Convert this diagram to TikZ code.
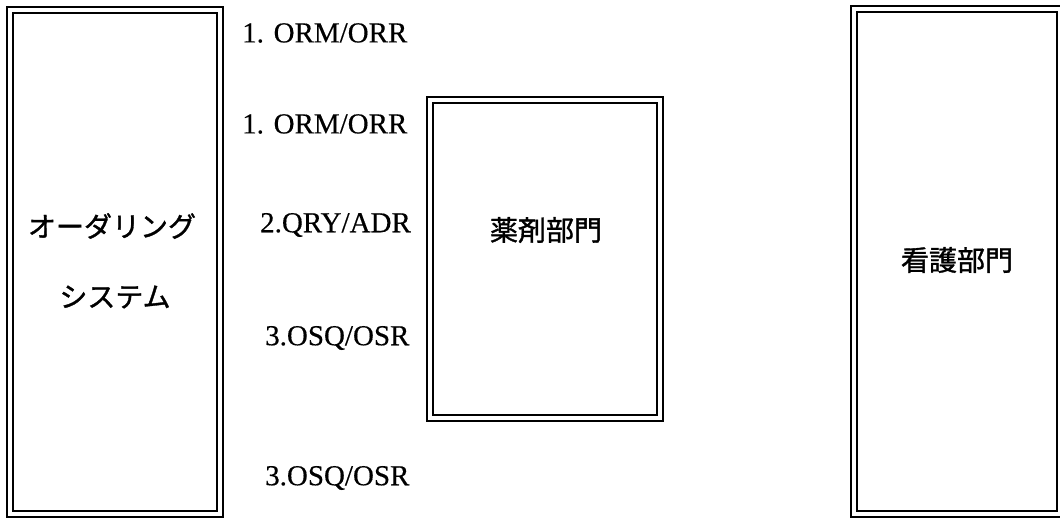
\documentclass[tikz,border=0pt]{standalone}
\usepackage{fontspec}
\setmainfont[FakeBold=0.4]{Liberation Serif}
\newfontfamily\jfont[FakeBold=1.2]{Noto Sans CJK JP}
\begin{document}
\begin{tikzpicture}[x=1pt,y=-1pt,
  inbox/.style={draw, line width=2.4pt, inner sep=0pt, minimum width=#1},
  jtext/.style={font=\jfont\fontsize{28}{32}\selectfont, inner sep=0pt},
  msg/.style={font=\fontsize{29}{34}\selectfont, inner sep=0pt, anchor=west},
  outerline/.style={line width=1.6pt}]
\useasboundingbox (0,0) rectangle (1060,524);
% boxes (inner thick frame)
\node[inbox=204pt, minimum height=498pt] (order) at (115,262) {};
\node[inbox=224pt, minimum height=312pt] (pharm) at (545,259) {};
\node[inbox=200pt, minimum height=499pt] (nurse) at (957,261.5) {};
% outer thin frames
\foreach \n in {order,pharm,nurse}{
  \draw[outerline] ([shift={(-5,-5)}]\n.north west) rectangle ([shift={(5,5)}]\n.south east);
}
% box texts
\node[jtext] (t1) at (112,226) {オーダリング};
\node[jtext] (t2) at (115,297) {システム};
\node[jtext] (t3) at (546,230) {薬剤部門};
\node[jtext] (t4) at (957,260) {看護部門};
% message labels
\node[msg] (m1) at (242,33) {1. ORM/ORR};
\node[msg] (m2) at (242,124) {1. ORM/ORR};
\node[msg] (m3) at (260,225) {2.QRY/ADR};
\node[msg] (m4) at (265,338) {3.OSQ/OSR};
\node[msg] (m5) at (265,478) {3.OSQ/OSR};
\end{tikzpicture}
\end{document}
